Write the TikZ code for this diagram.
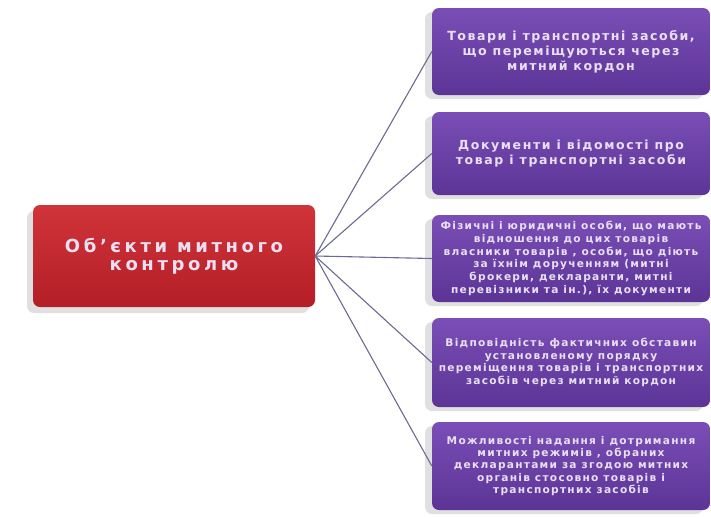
\documentclass[tikz,border=0pt]{standalone}
\usepackage{fontspec}
\setmainfont{DejaVu Sans}
\usetikzlibrary{shadows,shadings}
\definecolor{purpTop}{HTML}{7A4EB6}
\definecolor{purpBot}{HTML}{5C3496}
\definecolor{redTop}{HTML}{D0343A}
\definecolor{redBot}{HTML}{B41E26}
\definecolor{lineCol}{HTML}{6A6A92}
\definecolor{txtCol}{HTML}{E8E0F2}
\newcommand{\firsttxt}{\bfseries\addfontfeatures{LetterSpace=12}\fontsize{12.6}{15}\selectfont}
\newcommand{\bigtxt}{\bfseries\addfontfeatures{LetterSpace=13}\fontsize{12.5}{15}\selectfont}
\newcommand{\smalltxt}[1]{\bfseries\addfontfeatures{LetterSpace=12}\fontsize{10.6}{#1}\selectfont}
\newcommand{\maintxt}{\bfseries\addfontfeatures{LetterSpace=20}\fontsize{18}{18.5}\selectfont}
\tikzset{
  purplebox/.style={rectangle, rounded corners=7pt, minimum width=278pt,
    top color=purpTop, bottom color=purpBot, draw=none,
    text=txtCol, align=center,
    drop shadow={shadow xshift=-7pt, shadow yshift=-4pt, opacity=0.3, fill=gray!80}},
  redbox/.style={rectangle, rounded corners=7pt, minimum width=282pt, minimum height=102pt,
    top color=redTop, bottom color=redBot, draw=none,
    text=txtCol, align=center, font=\maintxt,
    drop shadow={shadow xshift=-6pt, shadow yshift=-6pt, opacity=0.3, fill=gray!80}},
  conn/.style={draw=lineCol, line width=1.1pt}
}
\begin{document}
\begin{tikzpicture}[x=1pt,y=-1pt]
\useasboundingbox (0,0) rectangle (711,517);
\node[redbox] (main) at (174,256) {Об’єкти митного\\контролю};
\node[purplebox, minimum height=87pt, font=\firsttxt] (b1) at (571,51.5)
  {Товари і транспортні засоби,\\що переміщуються через\\митний кордон};
\node[purplebox, minimum height=83pt, font=\bigtxt] (b2) at (571,153.5)
  {Документи і відомості про\\товар і транспортні засоби};
\node[purplebox, minimum height=87pt, font=\smalltxt{12.8}] (b3) at (571,258.5)
  {Фізичні і юридичні особи, що мають\\відношення до цих товарів\\власники товарів , особи, що діють\\за їхнім дорученням (митні\\брокери, декларанти, митні\\перевізники та ін.), їх документи};
\node[purplebox, minimum height=89pt, font=\smalltxt{12.7}] (b4) at (571,362.5)
  {Відповідність фактичних  обставин\\установленому порядку\\переміщення товарів і транспортних\\засобів через митний кордон};
\node[purplebox, minimum height=88pt, font=\smalltxt{12.3}] (b5) at (571,466)
  {Можливості надання і дотримання\\митних режимів , обраних\\декларантами  за згодою митних\\органів стосовно товарів і\\транспортних засобів};
\foreach \b in {b1,b2,b3,b4,b5}
  \draw[conn] (main.east) -- (\b.west);
\end{tikzpicture}
\end{document}
